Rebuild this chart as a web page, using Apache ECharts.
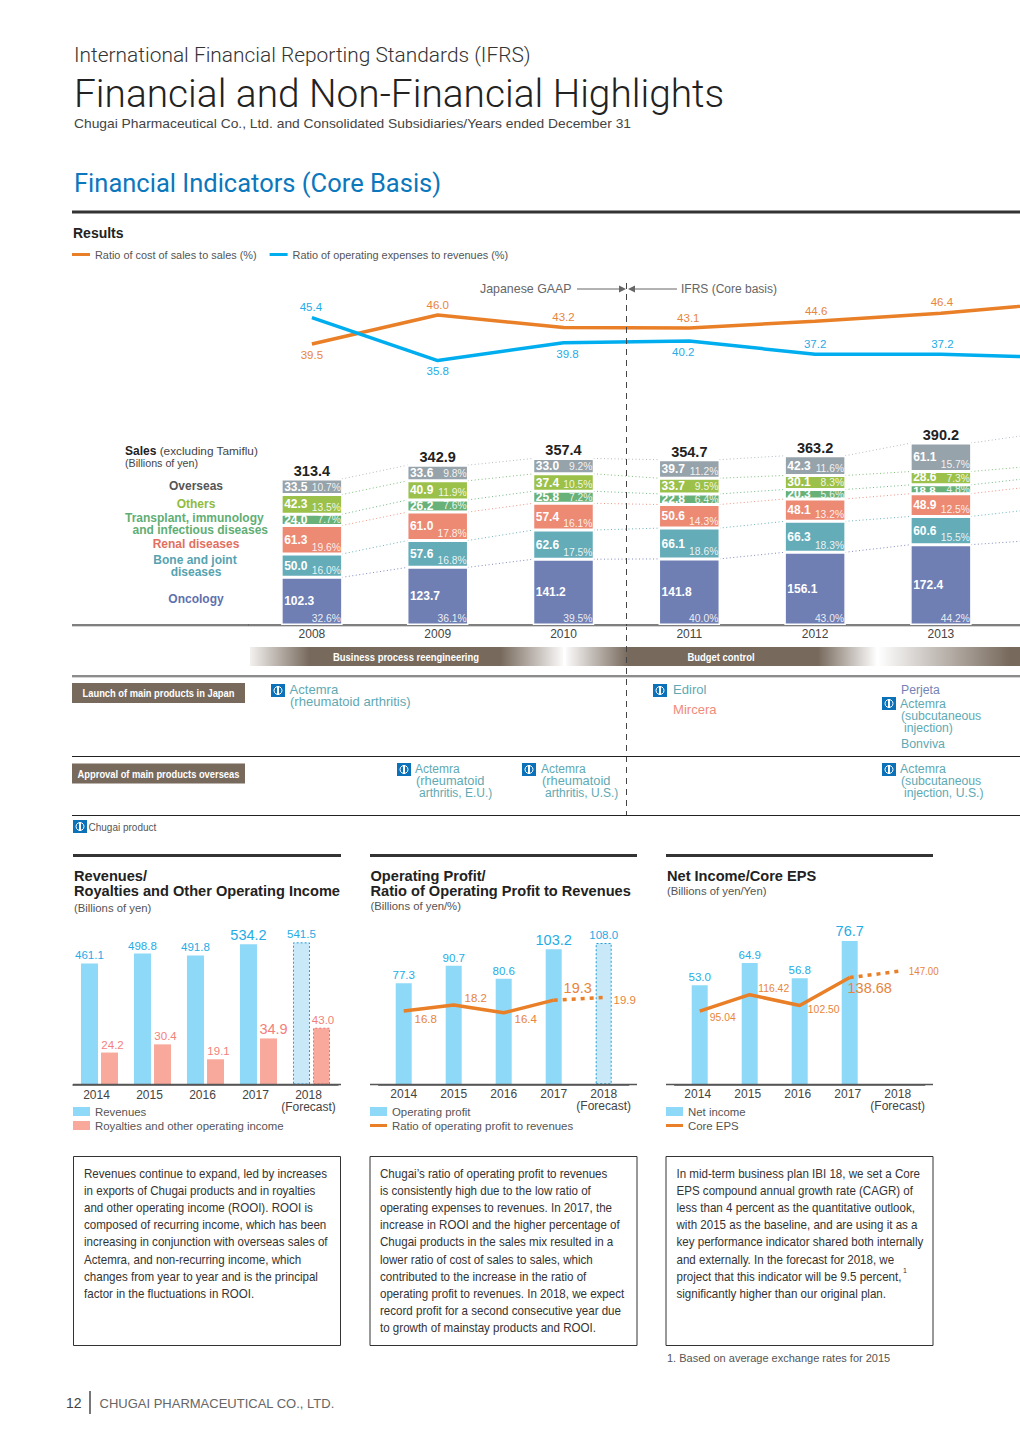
<!DOCTYPE html>
<html><head><meta charset="utf-8">
<style>html,body{margin:0;padding:0;background:#fff;overflow:hidden}#c{width:1020px;height:1442px}</style>
<script src="https://cdn.jsdelivr.net/npm/echarts@6/dist/echarts.min.js"></script>
</head><body><div id="c"></div>
<script>
// ---------- DATA ----------
const salesYears = ['2008','2009','2010','2011','2012','2013','2014'];
const costRatio = [39.5,46.0,43.2,43.1,44.6,46.4,48.9];   // 2014 runs off the page (estimated)
const opexRatio = [45.4,35.8,39.8,40.2,37.2,37.2,36.4];
const oncology   = [102.3,123.7,141.2,141.8,156.1,172.4,182];
const bone       = [50.0,57.6,62.6,66.1,66.3,60.6,67];
const renal      = [61.3,61.0,57.4,50.6,48.1,48.9,49];
const transplant = [24.0,26.2,25.8,22.8,20.3,18.8,18.5];
const others     = [42.3,40.9,37.4,33.7,30.1,28.6,25];
const overseas   = [33.5,33.6,33.0,39.7,42.3,61.1,69];
const salesTotal = [313.4,342.9,357.4,354.7,363.2,390.2];
const pctOncology   = ['32.6%','36.1%','39.5%','40.0%','43.0%','44.2%'];
const pctBone       = ['16.0%','16.8%','17.5%','18.6%','18.3%','15.5%'];
const pctRenal      = ['19.6%','17.8%','16.1%','14.3%','13.2%','12.5%'];
const pctTransplant = ['7.7%','7.6%','7.2%','6.4%','5.6%','4.8%'];
const pctOthers     = ['13.5%','11.9%','10.5%','9.5%','8.3%','7.3%'];
const pctOverseas   = ['10.7%','9.8%','9.2%','11.2%','11.6%','15.7%'];

const years5 = ['2014','2015','2016','2017','2018\n(Forecast)'];
const revenues  = [461.1,498.8,491.8,534.2,541.5];
const royalties = [24.2,30.4,19.1,34.9,43.0];
const opProfit  = [77.3,90.7,80.6,103.2,108.0];
const opRatio   = [16.8,18.2,16.4,19.3,null];
const opRatioFc = [null,null,null,19.3,19.9];
const netIncome = [53.0,64.9,56.8,76.7,null];
const coreEps   = [95.04,116.42,102.50,138.68,null];
const coreEpsFc = [null,null,null,138.68,147.00];

const para1 = ['Revenues continue to expand, led by increases','in exports of Chugai products and in royalties','and other operating income (ROOI). ROOI is','composed of recurring income, which has been','increasing in conjunction with overseas sales of','Actemra, and non-recurring income, which','changes from year to year and is the principal','factor in the fluctuations in ROOI.'];
const para2 = ['Chugai’s ratio of operating profit to revenues','is consistently high due to the low ratio of','operating expenses to revenues. In 2017, the','increase in ROOI and the higher percentage of','Chugai products in the sales mix resulted in a','lower ratio of cost of sales to sales, which','contributed to the increase in the ratio of','operating profit to revenues. In 2018, we expect','record profit for a second consecutive year due','to growth of mainstay products and ROOI.'];
const para3 = ['In mid-term business plan IBI 18, we set a Core','EPS compound annual growth rate (CAGR) of','less than 4 percent as the quantitative outlook,','with 2015 as the baseline, and are using it as a','key performance indicator shared both internally','and externally. In the forecast for 2018, we','project that this indicator will be 9.5 percent,','significantly higher than our original plan.'];

// ---------- STYLE ----------
const SANS='"Liberation Sans", Arial, sans-serif', LIGHT='Roboto,"Liberation Sans",sans-serif';
const BLUE='#00aeef', ORANGE='#e97f27', LBLUE='#25ace6', LORANGE='#e8853b', LPINK='#f37f7c', BARBLUE='#8ed8f8', BARPINK='#f9a89c', TEAL='#5fa9b3', BROWN='#77695c';
const segNames=['Oncology','Bone and joint diseases','Renal diseases','Transplant, immunology and infectious diseases','Others','Overseas'];
const segData=[oncology,bone,renal,transplant,others,overseas];
const segPct=[pctOncology,pctBone,pctRenal,pctTransplant,pctOthers,pctOverseas];
const segColor=['#6f7fb4','#64acb8','#ec8a74','#68b27a','#9bc14a','#97a3ab'];
const linkColor=['#7f8cc0','#6db3bd','#ef9482','#6fb885','#7fbf7a','#b5bcc2'];

// ---------- GRAPHIC HELPERS ----------
const g=[];
const T=(x,y,text,font,fill,align,sx)=>g.push({type:'text',x,y,scaleX:sx||1,silent:true,z:20,style:{text,font,fill,textAlign:align||'left',textVerticalAlign:'middle'}});
const L=(x1,y1,x2,y2,stroke,lineWidth,dash)=>g.push({type:'line',silent:true,z:15,shape:{x1,y1,x2,y2},style:{stroke,lineWidth,lineDash:dash||null}});
const R=(x,y,w,h,fill,stroke,lw)=>g.push({type:'rect',silent:true,z:5,shape:{x,y,width:w,height:h},style:{fill,stroke:stroke||null,lineWidth:lw||0}});
const Tri=(pts,fill)=>g.push({type:'polygon',silent:true,z:15,shape:{points:pts},style:{fill}});
const Icon=(x,y)=>{R(x,y,14,13,'#0b72ba');
  g.push({type:'circle',silent:true,z:6,shape:{cx:x+7,cy:y+6.5,r:4},style:{fill:'none',stroke:'#fff',lineWidth:1}});
  g.push({type:'rect',silent:true,z:7,shape:{x:x+6,y:y+2,width:2,height:9},style:{fill:'#fff'}});};

// header
T(74,55,'International Financial Reporting Standards (IFRS)','300 20.9px '+LIGHT,'#333');
T(74,93,'Financial and Non-Financial Highlights','300 38.85px '+LIGHT,'#222');
T(74,124,'Chugai Pharmaceutical Co., Ltd. and Consolidated Subsidiaries/Years ended December 31','12.8px '+SANS,'#444','left',1.08);
T(74,183,'Financial Indicators (Core Basis)','25.5px '+LIGHT,'#0b77bd');
L(72,212,1020,212,'#333',3);
T(73,233,'Results','bold 14px '+SANS,'#222');

// period annotations
T(480,289,'Japanese GAAP','12.4px '+SANS,'#666');
L(577,289,622,289,'#666',1); Tri([[619,285.5],[626,289],[619,292.5]],'#666');
L(634,289,677,289,'#666',1); Tri([[635,285.5],[628,289],[635,292.5]],'#666');
T(681,289,'IFRS (Core basis)','12px '+SANS,'#666');
L(626.5,283,626.5,815,'#444',1,[6,5]);

// left-hand sales labels
g.push({type:'text',x:125,y:451,silent:true,z:20,style:{text:'{b|Sales} {n|(excluding Tamiflu)}',textVerticalAlign:'middle',rich:{b:{font:'bold 12px '+SANS,fill:'#222',color:'#222'},n:{font:'11.8px '+SANS,fill:'#444',color:'#444'}}}});
T(125,463,'(Billions of yen)','10.7px '+SANS,'#444');
const lab=(x,y,t,c,a)=>T(x,y,t,'bold 12px '+SANS,c,a||'center');
lab(196,486,'Overseas','#555');
lab(196,504,'Others','#8fbb3f');
lab(125,518,'Transplant, immunology','#5fae74','left');
lab(268,530,'and infectious diseases','#5fae74','right');
lab(196,544,'Renal diseases','#e2705f');
lab(195,560,'Bone and joint','#56a3b0');
lab(196,572,'diseases','#56a3b0');
lab(196,599,'Oncology','#5f70ae');
L(72,625,249,625,'#555',1.5);L(72,626.5,1020,626.5,'#d4d4d4',1);

// process bands
const grad=(stops)=>({type:'linear',x:0,y:0,x2:1,y2:0,colorStops:stops});
R(250,647,313,19,grad([{offset:0,color:'#f3f1ef'},{offset:.19,color:BROWN},{offset:.8,color:BROWN},{offset:1,color:'#fbfafa'}]));
R(566,647,311,19,grad([{offset:0,color:'#fbfafa'},{offset:.2,color:BROWN},{offset:.81,color:BROWN},{offset:1,color:'#ffffff'}]));
R(878,647,142,19,grad([{offset:0,color:'#ffffff'},{offset:.93,color:BROWN},{offset:1,color:BROWN}]));
const B10='bold 11px '+SANS;
T(406,657,'Business process reengineering',B10,'#fff','center',.86);
T(721,657,'Budget control',B10,'#fff','center',.86);

// product rows
L(72,676,1020,676,'#666',1.5);L(72,677.5,1020,677.5,'#d4d4d4',1);L(72,756.5,1020,756.5,'#222',1);L(72,815.5,1020,815.5,'#222',1);
R(72,683,173,20,BROWN);T(158.5,693,'Launch of main products in Japan',B10,'#fff','center',.85);
R(72,763.5,173,20,BROWN);T(158.5,774,'Approval of main products overseas',B10,'#fff','center',.85);
const P='12px '+SANS, PT=(x,y,t,c,sx)=>T(x,y,t,P,c||TEAL,'left',sx||1.09);
Icon(271,684);PT(289.5,690,'Actemra');PT(290,702,'(rheumatoid arthritis)');
Icon(653,684);PT(673,690,'Edirol');PT(673,710,'Mircera','#f08b7a');
PT(901,690,'Perjeta','#7483b6',1.02);Icon(882,697);PT(900,704,'Actemra',TEAL,1.03);PT(901,716,'(subcutaneous',TEAL,1.02);PT(904,728,'injection)',TEAL,1.02);PT(901,744,'Bonviva',TEAL,1.03);
Icon(397,763);PT(415,769,'Actemra',TEAL,1);PT(416,781,'(rheumatoid',TEAL,1.07);PT(419,793,'arthritis, E.U.)',TEAL,1);
Icon(522,763);PT(541,769,'Actemra',TEAL,1);PT(542,781,'(rheumatoid',TEAL,1.07);PT(545,793,'arthritis, U.S.)',TEAL,1);
Icon(882,763);PT(900,769,'Actemra',TEAL,1.03);PT(901,781,'(subcutaneous',TEAL,1.02);PT(904,793,'injection, U.S.)',TEAL,1.02);
Icon(73,820);T(88.5,827,'Chugai product','10px '+SANS,'#555');

// lower panel headers
[[73,341],[370,637],[666,933]].forEach(([a,b])=>L(a,855.5,b,855.5,'#333',3));
const H='bold 14.6px '+SANS, S='11.3px '+SANS;
T(74,876,'Revenues/',H,'#222');T(74,891,'Royalties and Other Operating Income',H,'#222');T(74,908,'(Billions of yen)',S,'#555');
T(370.5,876,'Operating Profit/',H,'#222');T(370.5,891,'Ratio of Operating Profit to Revenues',H,'#222');T(370.5,906,'(Billions of yen/%)',S,'#555');
T(667,876,'Net Income/Core EPS',H,'#222');T(667,891,'(Billions of yen/Yen)',S,'#555');
// baselines beyond the axis bands
L(73,1084.5,341,1084.5,'#555',1.5);L(370,1084.5,637,1084.5,'#555',1.5);L(666,1084.5,933,1084.5,'#555',1.5);

// text boxes
[[73.5,267],[370,267],[666,267]].forEach(([x,w])=>R(x,1156.5,w,189,'#fff','#333',1));
const para=(x,lines)=>lines.forEach((t,i)=>T(x,1173.8+i*17.1,t,'13.5px '+SANS,'#333','left',.857));
para(84,para1);para(380,para2);para(676.5,para3);
T(903,1270,'1','7px '+SANS,'#333');
T(667,1358,'1. Based on average exchange rates for 2015','11px '+SANS,'#555');
// footer
T(66,1403,'12','14px '+SANS,'#444');L(90,1391,90,1414,'#777',2);T(99.5,1403,'CHUGAI PHARMACEUTICAL CO., LTD.','13px '+SANS,'#666');

// ---------- SERIES HELPERS ----------
const textMarks=(xi,yi,vals,offs,color,sizes,opt)=>({type:'custom',xAxisIndex:xi,yAxisIndex:yi,silent:true,clip:false,z:12,
  encode:{x:0,y:1},data:vals.map((v,i)=>v==null?null:[i,v]).filter(Boolean),
  renderItem:(p,api)=>{const i=api.value(0),c=api.coord([i,api.value(1)]);
    return {type:'text',x:c[0]+offs[i][0],y:c[1]+offs[i][1],scaleX:(opt&&opt.sx&&opt.sx[i])||1,style:{text:(opt&&opt.fmt?opt.fmt(vals[i]):vals[i].toFixed(1)),fill:color,font:(sizes&&sizes[i]||11.5)+'px '+SANS,textAlign:'center',textVerticalAlign:'middle'}};}});
const barLabels=(vals,offs,color,sizes,forecastStyle)=>vals.map((v,i)=>v==null?null:({value:v,
  label:{show:true,position:'top',distance:2,color,fontFamily:SANS,fontSize:sizes[i]||11.5,offset:offs[i],formatter:v.toFixed(1)},
  itemStyle:(i===4&&forecastStyle)||undefined}));
const fc=(fill,stroke)=>({color:fill,borderColor:stroke,borderWidth:1,borderType:[2,2]});

// stacked bars
const thin=v=>v<19;
const stackSeries=segData.map((arr,s)=>({type:'bar',name:segNames[s],stack:'sales',xAxisIndex:1,yAxisIndex:1,barWidth:61.5,z:3,
  itemStyle:{color:segColor[s],borderColor:'#fff',borderWidth:1.5},
  data:arr.map((v,i)=>i<6?{value:v,label:{show:true,position:'insideLeft',distance:3,offset:[0,thin(v)?1.5:(s===4&&i===5?-1:0)],formatter:v.toFixed(1),color:'#fff',fontFamily:SANS,fontSize:thin(v)?11.5:12,fontWeight:'bold'}}:{value:v})}));
const cum=(s,i)=>{let t=0;for(let k=0;k<=s;k++)t+=segData[k][i];return t;};
// connectors between the stack boundaries
const linkRows=[];for(let s=0;s<6;s++)for(let i=0;i<6;i++)linkRows.push([i,cum(s,i),cum(s,i+1),s]);
const linkSeries={type:'custom',xAxisIndex:1,yAxisIndex:1,silent:true,clip:false,z:2,encode:{x:0,y:1},data:linkRows,
  renderItem:(p,api)=>{const i=api.value(0),a=api.coord([i,api.value(1)]),b=api.coord([i+1,api.value(2)]);
    return {type:'line',shape:{x1:a[0]+30,y1:a[1],x2:b[0]-30,y2:b[1]},style:{stroke:linkColor[api.value(3)],lineWidth:1,lineDash:[1,2.5]}};}};
// percentages, bottom-right of each segment
const pctRows=[];for(let s=0;s<6;s++)for(let i=0;i<6;i++)pctRows.push([i,s?cum(s-1,i):0,s,segData[s][i]]);
const pctSeries={type:'custom',xAxisIndex:1,yAxisIndex:1,silent:true,clip:false,z:6,encode:{x:0,y:1},data:pctRows,
  renderItem:(p,api)=>{const i=api.value(0),s=api.value(2),c=api.coord([i,api.value(1)]),top=api.coord([i,api.value(1)+api.value(3)]);
    const dy=Math.min(7,(c[1]-top[1])/2);
    return {type:'text',x:c[0]+29,y:c[1]-dy,style:{text:segPct[s][i],fill:'rgba(255,255,255,.88)',font:'10.3px '+SANS,textAlign:'right',textVerticalAlign:'middle'}};}};
const totalSeries=textMarks(1,1,salesTotal,salesTotal.map(()=>[0,-8]),'#222',[],{fmt:v=>v.toFixed(1)});
totalSeries.renderItem=(p,api)=>{const i=api.value(0),c=api.coord([i,api.value(1)]);
  return {type:'text',x:c[0],y:c[1]-8,style:{text:salesTotal[i].toFixed(1),fill:'#222',font:'bold 14.5px '+SANS,textAlign:'center',textVerticalAlign:'middle'}};};

const lineS=(name,xi,yi,data,color,dash)=>({type:'line',name,xAxisIndex:xi,yAxisIndex:yi,data,symbol:'none',smooth:false,z:9,connectNulls:false,
  lineStyle:{color,width:3.5,type:dash||'solid',cap:'butt'},itemStyle:{color}});
const xAx=(grid,data,margin,pad)=>({type:'category',gridIndex:grid,data,axisTick:{show:false},
  axisLine:{show:true,lineStyle:{color:'#555',width:1.5}},
  axisLabel:{color:'#444',fontFamily:SANS,fontSize:12,lineHeight:12,margin,interval:0,padding:pad||0,hideOverlap:false}});
const yAx=(grid,max)=>({type:'value',gridIndex:grid,min:0,max,show:false});
const legendTxt={color:'#555',fontFamily:SANS,fontSize:11.4};
const G=(left,top,width,height)=>({left,top,width,height,outerBoundsMode:'none'});
const LEG=(left,top,names,h)=>({left,top,padding:0,orient:'vertical',itemWidth:17,itemHeight:h,textStyle:legendTxt,icon:'rect',data:names,selectedMode:false});

const option={
  animation:false,backgroundColor:'#fff',
  grid:[
    G(249,297.2,880.6,89.2),
    G(249,415.3,880.6,209.7),
    G(73,927,265,157.5),
    G(378.7,927.3,250,157),
    G(674.7,927.3,250,157)
  ],
  xAxis:[
    {type:'category',gridIndex:0,data:salesYears,show:false},
    Object.assign(xAx(1,salesYears,3),{axisLabel:{color:'#444',fontFamily:SANS,fontSize:12,margin:3,interval:0,formatter:(v,i)=>i<6?v:''}}),
    xAx(2,years5,4,[0,6,0,0]),
    xAx(3,years5,4),
    xAx(4,years5,4,[0,4,0,0])
  ],
  yAxis:[
    {type:'value',gridIndex:0,min:30,max:50,show:false},
    yAx(1,450),yAx(2,600),yAx(2,119.3),yAx(3,120),yAx(3,36),yAx(4,84),yAx(4,204)
  ],
  legend:[
    {left:72,top:249,padding:0,icon:'rect',itemWidth:18,itemHeight:3,itemGap:13,textStyle:Object.assign({},legendTxt,{fontSize:10.9}),data:['Ratio of cost of sales to sales (%)','Ratio of operating expenses to revenues (%)'],selectedMode:false},
    LEG(73,1106,['Revenues'],9),LEG(73,1120,['Royalties and other operating income'],9),
    LEG(370,1106,['Operating profit'],9),LEG(370,1120,['Ratio of operating profit to revenues'],3),
    LEG(666,1106,['Net income'],9),LEG(666,1120,['Core EPS'],3)
  ],
  graphic:{elements:g},
  series:[
    // core ratios
    lineS('Ratio of cost of sales to sales (%)',0,0,costRatio,ORANGE),
    lineS('Ratio of operating expenses to revenues (%)',0,0,opexRatio,BLUE),
    textMarks(0,0,costRatio.slice(0,6),[[0,10.5],[0,-10],[0,-11],[-1,-10],[1,-10.5],[1,-11]],LORANGE),
    textMarks(0,0,opexRatio.slice(0,6),[[-1,-10.5],[0,10.5],[4,11.5],[-6,11],[0,-10.5],[1.5,-10]],LBLUE),
    // sales
    ...stackSeries,linkSeries,pctSeries,totalSeries,
    // revenues / royalties
    {type:'bar',name:'Revenues',xAxisIndex:2,yAxisIndex:2,barWidth:17,barGap:'18%',itemStyle:{color:BARBLUE},
      data:barLabels(revenues,[[0,0],[0,0],[0,0],[0,0],[0,0]],LBLUE,[0,0,0,14.5,0],fc('#c9e9f9','#1f9fdc'))},
    {type:'bar',name:'Royalties and other operating income',xAxisIndex:2,yAxisIndex:3,barWidth:17,barGap:'18%',itemStyle:{color:BARPINK},
      data:barLabels(royalties,[[3,0],[3,0],[3,0],[5,0],[1.5,0]],LPINK,[0,0,0,14.5,0],fc(BARPINK,'#ee6f72'))},
    // operating profit
    {type:'bar',name:'Operating profit',xAxisIndex:3,yAxisIndex:4,barWidth:16,itemStyle:{color:BARBLUE},
      data:barLabels(opProfit,[[0,0],[0,0],[0,0],[0,0],[0,0]],LBLUE,[0,0,0,14.5,0],fc('#c9e9f9','#1f9fdc'))},
    lineS('Ratio of operating profit to revenues',3,5,opRatio,ORANGE),
    lineS('Ratio of operating profit forecast',3,5,opRatioFc,ORANGE,[4,5]),
    textMarks(3,5,[16.8,18.2,16.4,19.3,19.9],[[22,8],[22,-7],[22,6],[24,-12],[21,2.5]],LORANGE,[0,0,0,14.5,0]),
    // net income
    {type:'bar',name:'Net income',xAxisIndex:4,yAxisIndex:6,barWidth:16,itemStyle:{color:BARBLUE},
      data:barLabels(netIncome,[[0,0],[0,0],[0,0],[0,0],[0,0]],LBLUE,[0,0,0,14.5,0])},
    lineS('Core EPS',4,7,coreEps,ORANGE),
    lineS('Core EPS forecast',4,7,coreEpsFc,ORANGE,[4,5]),
    textMarks(4,7,[95.04,116.42,102.50,138.68,147.00],[[23,5.5],[24,-7],[24,3],[20,10.5],[24,0]],LORANGE,[0,0,0,14.5,0],{fmt:v=>v.toFixed(2),sx:[.9,.9,.9,1,.85]})
  ]
};
const chart=echarts.init(document.getElementById('c'),null,{renderer:'svg',width:1020,height:1442});
chart.setOption(option);
</script></body></html>
